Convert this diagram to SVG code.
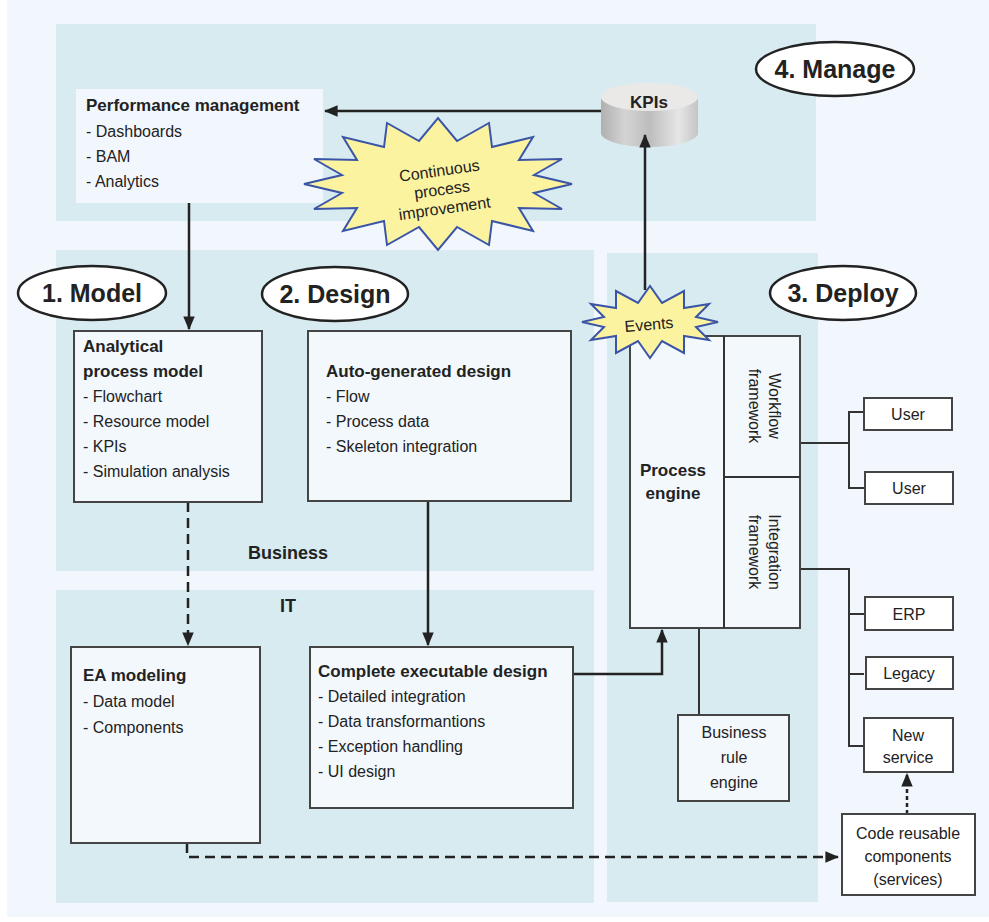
<svg xmlns="http://www.w3.org/2000/svg" width="989" height="922" viewBox="0 0 989 922">
<defs>
<style>
text{font-family:"Liberation Sans",Arial,sans-serif;fill:#222;font-size:16px}
.b{font-weight:bold}
.h{font-weight:bold;font-size:17px}
.big{font-weight:bold;font-size:25px}
.panel{fill:#d8ebf1}
.box{fill:#f3f8fd;stroke:#444;stroke-width:2}
.wbox{fill:#fff;stroke:#444;stroke-width:2}
.ell{fill:#fff;stroke:#222;stroke-width:2.5}
.star{fill:#fbf3a0;stroke:#3b55a6;stroke-width:2}
.ln{fill:none;stroke:#333;stroke-width:2}
.ar{fill:none;stroke:#222;stroke-width:2.5}
.c{text-anchor:middle}
</style>
<marker id="ah" viewBox="0 0 12 10" refX="11" refY="5" markerWidth="5.5" markerHeight="4.6" orient="auto-start-reverse" markerUnits="strokeWidth">
<path d="M0,0 L12,5 L0,10 z" fill="#222"/>
</marker>
<linearGradient id="cyl" x1="0" x2="1" y1="0" y2="0">
<stop offset="0" stop-color="#b0b0b0"/>
<stop offset="0.25" stop-color="#d4d4d4"/>
<stop offset="0.5" stop-color="#bdbdbd"/>
<stop offset="0.8" stop-color="#e6e6e6"/>
<stop offset="1" stop-color="#c4c4c4"/>
</linearGradient>
</defs>
<rect x="0" y="0" width="989" height="922" fill="#fff"/>
<rect x="7" y="0" width="982" height="917" fill="#f2f7fd"/>
<g id="panels">
<rect class="panel" x="56" y="24" width="760" height="197"/>
<rect class="panel" x="56" y="250" width="538" height="321"/>
<rect class="panel" x="56" y="590" width="538" height="313"/>
<rect class="panel" x="607" y="253" width="211" height="649"/>
<text class="h c" x="288" y="559" style="font-size:18px">Business</text>
<text class="h c" x="288" y="612" style="font-size:18px">IT</text>
</g>
<g id="labels">
<g id="lbl-manage"><ellipse class="ell" cx="835" cy="69" rx="79" ry="27"/><text class="big c" x="835" y="78">4. Manage</text></g>
<g id="lbl-model"><ellipse class="ell" cx="92" cy="293" rx="74" ry="27"/><text class="big c" x="92" y="302">1. Model</text></g>
<g id="lbl-design"><ellipse class="ell" cx="335" cy="294" rx="73" ry="27"/><text class="big c" x="335" y="303">2. Design</text></g>
<g id="lbl-deploy"><ellipse class="ell" cx="843" cy="293" rx="73" ry="27"/><text class="big c" x="843" y="302">3. Deploy</text></g>
</g>
<g id="kpis">
<path d="M601,97 L601,133 A48.5,14 0 0 0 698,133 L698,97 Z" fill="url(#cyl)"/>
<ellipse cx="649.5" cy="97" rx="48.5" ry="14" fill="#ebe9e7"/>
<text class="b c" x="649" y="108" style="font-size:17px">KPIs</text>
</g>
<g id="connectors">
<line class="ar" x1="601" y1="111" x2="325" y2="111" marker-end="url(#ah)"/>
<line class="ar" x1="645" y1="290" x2="645" y2="135" marker-end="url(#ah)"/>
<line class="ar" x1="189" y1="203" x2="189" y2="329" marker-end="url(#ah)"/>
<line class="ar" x1="188" y1="502" x2="188" y2="645" stroke-dasharray="10,6" marker-end="url(#ah)"/>
<line class="ar" x1="428" y1="501" x2="428" y2="645" marker-end="url(#ah)"/>
<polyline class="ar" points="573,674 662,674 662,630" marker-end="url(#ah)"/>
<polyline class="ar" points="187,843 187,857 838,857" stroke-dasharray="10,6" marker-end="url(#ah)"/>
<line class="ar" x1="907" y1="814" x2="907" y2="774" stroke-dasharray="4,3" marker-end="url(#ah)"/>
<line class="ln" x1="699" y1="628" x2="699" y2="715" stroke-width="2.5"/>
<polyline class="ln" points="800,443 849,443"/>
<polyline class="ln" points="864,412 849,412 849,488 864,488"/>
<polyline class="ln" points="800,569 849,569 849,746 864,746"/>
<line class="ln" x1="849" y1="614" x2="864" y2="614"/>
<line class="ln" x1="849" y1="674" x2="864" y2="674"/>
</g>
<g id="perf">
<rect x="76" y="89" width="247" height="114" fill="#f2f7fd"/>
<text class="h" x="86" y="111">Performance management</text>
<text x="86" y="137">- Dashboards</text>
<text x="86" y="162">- BAM</text>
<text x="86" y="187">- Analytics</text>
</g>
<g id="cpi">
<polygon class="star" points="572,184 534,193 562,209 519,208 533,231 492,221 489,245 457,227 438,250 419,227 387,245 384,221 343,231 357,208 314,209 342,193 304,184 342,175 314,159 357,160 343,137 384,147 387,123 419,141 438,118 457,141 489,123 492,147 533,137 519,160 562,159 534,175"/>
<g transform="rotate(-8 442 190)">
<text class="c" x="442" y="176">Continuous</text>
<text class="c" x="442" y="195">process</text>
<text class="c" x="442" y="214">improvement</text>
</g>
</g>
<g id="analytical">
<rect class="box" x="74" y="331" width="188" height="171"/>
<text class="h" x="83" y="352">Analytical</text>
<text class="h" x="83" y="377">process model</text>
<text x="83" y="402">- Flowchart</text>
<text x="83" y="427">- Resource model</text>
<text x="83" y="452">- KPIs</text>
<text x="83" y="477">- Simulation analysis</text>
</g>
<g id="autogen">
<rect class="box" x="308" y="331" width="263" height="170"/>
<text class="h" x="326" y="377">Auto-generated design</text>
<text x="326" y="402">- Flow</text>
<text x="326" y="427">- Process data</text>
<text x="326" y="452">- Skeleton integration</text>
</g>
<g id="ea">
<rect class="box" x="71" y="647" width="189" height="196"/>
<text class="h" x="83" y="681">EA modeling</text>
<text x="83" y="707">- Data model</text>
<text x="83" y="733">- Components</text>
</g>
<g id="complete">
<rect class="box" x="310" y="647" width="263" height="161"/>
<text class="h" x="318" y="677">Complete executable design</text>
<text x="318" y="702">- Detailed integration</text>
<text x="318" y="727">- Data transformantions</text>
<text x="318" y="752">- Exception handling</text>
<text x="318" y="777">- UI design</text>
</g>
<g id="engine">
<rect class="box" x="630" y="336" width="170" height="292"/>
<line class="ln" x1="724" y1="336" x2="724" y2="628"/>
<line class="ln" x1="724" y1="477" x2="800" y2="477"/>
<text class="h c" x="673" y="476">Process</text>
<text class="h c" x="673" y="499">engine</text>
<g transform="rotate(90 762 406)">
<text class="c" x="762" y="399">Workflow</text>
<text class="c" x="762" y="419">framework</text>
</g>
<g transform="rotate(90 762 552)">
<text class="c" x="762" y="545">Integration</text>
<text class="c" x="762" y="565">framework</text>
</g>
</g>
<g id="events">
<polygon class="star" points="718,322 696,327 709,340 684,336 684,353 662,341 650,358 638,341 616,353 616,336 591,340 604,327 582,322 604,317 591,304 616,308 616,291 638,303 650,286 662,303 684,291 684,308 709,304 696,317"/>
<text class="c" x="649" y="330" transform="rotate(-5 649 325)">Events</text>
</g>
<g id="bre">
<rect class="box" x="678" y="715" width="111" height="86" stroke="#777"/>
<text class="c" x="734" y="738">Business</text>
<text class="c" x="734" y="763">rule</text>
<text class="c" x="734" y="788">engine</text>
</g>
<g id="user1"><rect class="wbox" x="864" y="398" width="88" height="32"/><text class="c" x="908" y="420">User</text></g>
<g id="user2"><rect class="wbox" x="865" y="472" width="88" height="32"/><text class="c" x="909" y="494">User</text></g>
<g id="erp"><rect class="wbox" x="865" y="597" width="88" height="33"/><text class="c" x="909" y="620">ERP</text></g>
<g id="legacy"><rect class="wbox" x="866" y="657" width="87" height="32"/><text class="c" x="909" y="679">Legacy</text></g>
<g id="newsvc"><rect class="wbox" x="864" y="718" width="89" height="54" stroke-width="2.5"/><text class="c" x="908" y="741">New</text><text class="c" x="908" y="763">service</text></g>
<g id="code"><rect class="wbox" x="842" y="814" width="133" height="81"/><text class="c" x="908" y="839">Code reusable</text><text class="c" x="908" y="862">components</text><text class="c" x="908" y="885">(services)</text></g>
</svg>
